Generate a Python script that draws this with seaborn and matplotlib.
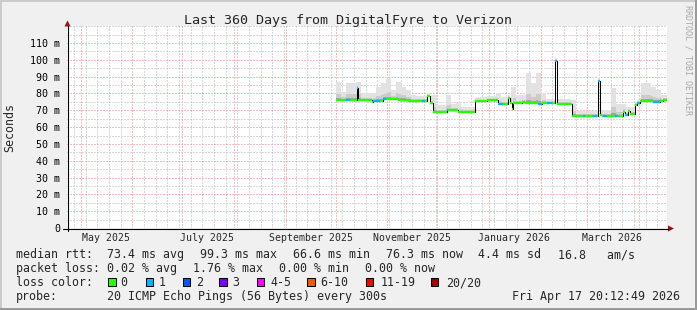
import numpy as np
import pandas as pd
import matplotlib
matplotlib.use("Agg")
import matplotlib.pyplot as plt
import matplotlib.dates as mdates
from matplotlib.ticker import FixedLocator, MultipleLocator, FuncFormatter, NullFormatter
from matplotlib.patches import Rectangle, Polygon
from matplotlib.lines import Line2D
import seaborn as sns

# ---------------- data ----------------
start_date = "2025-04-22 20:12:49"
end_date = "2026-04-17 20:12:49"

median_dates = [
    "2025-10-01 00:00", "2025-10-07 00:00", "2025-10-09 10:00", "2025-10-13 14:00",
    "2025-10-14 14:00", "2025-10-22 14:00", "2025-10-23 14:00", "2025-10-27 14:00",
    "2025-10-29 14:00", "2025-10-31 00:00", "2025-11-01 14:00", "2025-11-07 14:00",
    "2025-11-13 14:00", "2025-11-21 14:00", "2025-11-23 14:00", "2025-11-24 14:00",
    "2025-11-26 14:00", "2025-11-28 14:00", "2025-12-06 14:00", "2025-12-07 14:00",
    "2025-12-13 14:00", "2025-12-23 14:00", "2025-12-30 14:00", "2026-01-06 14:00",
    "2026-01-09 14:00", "2026-01-12 14:00", "2026-01-13 14:00", "2026-01-14 14:00",
    "2026-01-15 14:00", "2026-01-20 14:00", "2026-01-22 10:00", "2026-01-30 14:00",
    "2026-02-01 14:00", "2026-02-04 14:00", "2026-02-07 14:00", "2026-02-09 14:00",
    "2026-02-10 14:00", "2026-02-19 14:00", "2026-02-26 14:00", "2026-02-27 14:00",
    "2026-03-04 14:00", "2026-03-06 14:00", "2026-03-07 14:00", "2026-03-08 14:00",
    "2026-03-09 14:00", "2026-03-10 14:00", "2026-03-12 14:00", "2026-03-17 14:00",
    "2026-03-19 14:00", "2026-03-22 14:00", "2026-03-23 14:00", "2026-03-25 14:00",
    "2026-03-26 14:00", "2026-03-29 14:00", "2026-03-30 14:00", "2026-04-01 14:00",
    "2026-04-09 14:00", "2026-04-13 14:00", "2026-04-15 12:00",
]
median_ms = [
    76.4, 76.4, 76.4, 83.1,
    76.2, 75.2, 75.8, 75.8,
    76.8, 76.8, 77.0, 76.4,
    75.8, 75.8, 75.8, 78.2,
    74.2, 68.9, 70.0, 70.0,
    68.9, 75.6, 76.2, 73.8,
    73.8, 77.2, 74.2, 70.7,
    74.2, 75.0, 74.2, 73.6,
    74.2, 74.2, 74.6, 99.3,
    73.6, 66.6, 66.6, 66.6,
    66.6, 66.6, 87.5, 66.9,
    66.6, 66.6, 66.6, 66.6,
    66.6, 69.2, 66.9, 69.6,
    67.9, 73.2, 74.4, 75.6,
    75.2, 75.8, 76.3,
]
median_loss = [
    0, 1, 0, 1,
    0, 0, 1, 0,
    1, 0, 0, 0,
    0, 1, 0, 0,
    0, 0, 1, 0,
    0, 0, 0, 1,
    0, 0, 0, 0,
    0, 0, 0, 1,
    0, 1, 0, 1,
    0, 0, 1, 0,
    1, 0, 1, 0,
    0, 1, 0, 1,
    0, 0, 1, 0,
    0, 0, 1, 0,
    1, 0, 0,
]

smoke_start = "2025-10-01"
smoke_top_ms = [
    87, 81, 86, 86, 87, 80, 80, 80, 84, 86,
    88.5, 82, 87, 84, 82, 79, 78.5, 78.5, 78.5, 79,
    73, 73, 79, 74, 75, 72, 72, 72, 78, 78,
    78, 78, 80, 78, 78, 84, 79, 79, 92, 86,
    92, 80, 77, 77, 77, 77, 77, 76, 69.5, 69.5,
    69.5, 69.5, 69.5, 70, 70, 83, 74, 74, 72, 72,
    74, 86, 86, 84, 82, 79, 79,
]

y_ticks = [0, 10, 20, 30, 40, 50, 60, 70, 80, 90, 100, 110]
x_label_dates = ["2025-05-16", "2025-07-16", "2025-09-16", "2025-11-16", "2026-01-16", "2026-03-16"]
x_label_texts = ["May 2025", "July 2025", "September 2025", "November 2025", "January 2026", "March 2026"]

loss_labels = ["0", "1", "2", "3", "4-5", "6-10", "11-19", "20/20"]
loss_colors = ["#26ff00", "#00b8ff", "#0059ff", "#7e00ff", "#ff00ff", "#ff5500", "#ff0000", "#a10000"]

title = "Last 360 Days from DigitalFyre to Verizon"
rtt_parts = ["median rtt:", "73.4 ms avg", "99.3 ms max", "66.6 ms min", "76.3 ms now", "4.4 ms sd", "16.8   am/s"]
loss_parts = ["packet loss:", "0.02 % avg", "1.76 % max", "0.00 % min", "0.00 % now"]
probe_text = "20 ICMP Echo Pings (56 Bytes) every 300s"
stamp_text = "Fri Apr 17 20:12:49 2026"

# ---------------- style ----------------
sns.set_style("white")
MONO = ["DejaVu Sans Mono"]
plt.rcParams["font.family"] = MONO

W, H = 697, 310
def fx(px):
    return px / W
def fy(py):
    return 1 - py / H

fig = plt.figure(figsize=(W / 100, H / 100), dpi=100)
fig.patch.set_facecolor("#f0f0f0")

top_px, bot_px, left_px, right_px = 26.2, 228, 67, 667
ax = fig.add_axes([fx(left_px), fy(bot_px), (right_px - left_px) / W, (bot_px - top_px) / H])
ax.set_facecolor("white")
for s in ax.spines.values():
    s.set_visible(False)

# ---------------- series ----------------
md = pd.to_datetime(median_dates + [end_date], format="ISO8601")
mv = np.array(median_ms + [median_ms[-1]])
df = pd.DataFrame({"t": md, "rtt": mv})

mdn = mdates.date2num(md)
sdates = pd.date_range(smoke_start, periods=len(smoke_top_ms), freq="3D")
sdn = mdates.date2num(sdates)
endn = mdates.date2num(pd.Timestamp(end_date))
startn = mdates.date2num(pd.Timestamp(start_date))
tn = np.unique(np.concatenate([mdn, sdn, [endn]]))
med_t = mv[np.clip(np.searchsorted(mdn, tn, side="right") - 1, 0, None)]
smk_t = np.array(smoke_top_ms, float)[np.clip(np.searchsorted(sdn, tn, side="right") - 1, 0, None)]
top = np.maximum(smk_t, med_t + 2.0)
mid = med_t + 0.32 * (top - med_t)
dark = med_t + 0.10 * (top - med_t)

sns.lineplot(data=df, x="t", y="rtt", drawstyle="steps-post", color="black",
             linewidth=0.75, ax=ax, estimator=None, legend=False, zorder=3)

ax.fill_between(tn, med_t, top, step="post", color="#e2e2e2", lw=0, zorder=2)
ax.fill_between(tn, med_t, mid, step="post", color="#cbcbcb", lw=0, zorder=2)
ax.fill_between(tn, med_t, dark, step="post", color="#a4a4a4", lw=0, zorder=2)

ax.hlines(mv[:-1], mdn[:-1], mdn[1:], colors=[loss_colors[l] for l in median_loss],
          linewidth=1.7, zorder=4)

# ---------------- axes ----------------
ax.set_xlim(startn, endn)
ax.set_ylim(0, 120)
ax.set_xlabel("")
ax.set_ylabel("")

ax.xaxis.set_major_locator(mdates.MonthLocator())
ax.xaxis.set_minor_locator(mdates.WeekdayLocator(byweekday=mdates.SU))
ax.xaxis.set_major_formatter(NullFormatter())
ax.xaxis.set_minor_formatter(NullFormatter())
ax.yaxis.set_major_locator(FixedLocator(y_ticks))
ax.yaxis.set_minor_locator(MultipleLocator(5))
ax.yaxis.set_major_formatter(FuncFormatter(lambda v, p: "0" if v == 0 else f"{v:.0f} m"))

dot = (0, (1, 2))
ax.grid(which="minor", color="#b4b4b4", linestyle=dot, linewidth=0.72, zorder=0)
ax.grid(which="major", color="#ec8080", linestyle=dot, linewidth=0.72, zorder=0)
ax.set_axisbelow(True)

ax.tick_params(axis="x", which="major", direction="out", length=2.6, width=0.72,
               color="#e89090", labelbottom=False)
ax.tick_params(axis="x", which="minor", direction="out", length=1.6, width=0.72,
               color="#b8b8b8")
ax.tick_params(axis="y", which="major", direction="out", length=2.2, width=0.72,
               color="#e89090", labelsize=7.2, pad=2.6, labelcolor="black")
ax.tick_params(axis="y", which="minor", direction="out", length=1.4, width=0.72,
               color="#b8b8b8")
for lab in ax.get_yticklabels():
    lab.set_family(MONO)

xt = ax.get_xaxis_transform()
for d, s in zip(x_label_dates, x_label_texts):
    ax.text(mdates.date2num(pd.Timestamp(d)), -(241 - bot_px) / (bot_px - top_px), s,
            transform=xt, ha="center", va="baseline", fontsize=7.1, family=MONO, clip_on=False)

# axis lines and arrows
fig.add_artist(Line2D([fx(63), fx(668)], [fy(228.5), fy(228.5)], color="black", lw=0.8))
fig.add_artist(Line2D([fx(67.5), fx(67.5)], [fy(231), fy(26)], color="black", lw=0.8))
fig.add_artist(Polygon([(fx(668), fy(225.5)), (fx(668), fy(231.5)), (fx(674), fy(228.5))],
                       closed=True, color="#9a1010", lw=0))
fig.add_artist(Polygon([(fx(64.5), fy(26.5)), (fx(70.5), fy(26.5)), (fx(67.5), fy(20.5))],
                       closed=True, color="#9a1010", lw=0))

# ---------------- texts ----------------
def T(x, y, s, **kw):
    kw.setdefault("fontsize", 8.35)
    kw.setdefault("ha", "left")
    kw.setdefault("va", "baseline")
    fig.text(fx(x), fy(y), s, family=MONO, **kw)

T(348.5, 24, title, ha="center", fontsize=9.6)
T(10, 127, "Seconds", ha="center", va="center", rotation=90)
fig.text(fx(688), fy(5), "RRDTOOL / TOBI OETIKER", rotation=270, ha="center", va="top",
         fontsize=6.0, color="#a8a8a8", family=MONO)

for x, s in zip([16, 107, 200, 293, 386, 478, 558], rtt_parts):
    T(x, 258, s)
for x, s in zip([16, 107, 193, 279, 365], loss_parts):
    T(x, 272, s)
T(16, 286, "loss color:")
sq_x = [108.3, 145.7, 182.7, 219.3, 256.7, 307.3, 365.7, 430.7]
lab_x = [120, 158.3, 195.7, 232, 270, 320.7, 380.7, 445.7]
for sx, lx, lab, col in zip(sq_x, lab_x, loss_labels, loss_colors):
    fig.add_artist(Rectangle((fx(sx), fy(286)), 7.4 / W, 7.8 / H, facecolor=col,
                             edgecolor="black", lw=0.75))
    T(lx, 286, lab)
T(16, 300, "probe:")
T(107, 300, probe_text)
T(680, 300, stamp_text, ha="right")

# border shading
fig.add_artist(Rectangle((0, 0), 1, 2 / H, facecolor="#9a9a9a", lw=0))
fig.add_artist(Rectangle((1 - 2 / W, 0), 2 / W, 1, facecolor="#9a9a9a", lw=0))
fig.add_artist(Rectangle((0, 1 - 2 / H), 1 - 2 / W, 2 / H, facecolor="#cbcbcb", lw=0))
fig.add_artist(Rectangle((0, 2 / H), 2 / W, 1 - 4 / H, facecolor="#cbcbcb", lw=0))

fig.savefig("out.png", dpi=100, facecolor=fig.get_facecolor())
